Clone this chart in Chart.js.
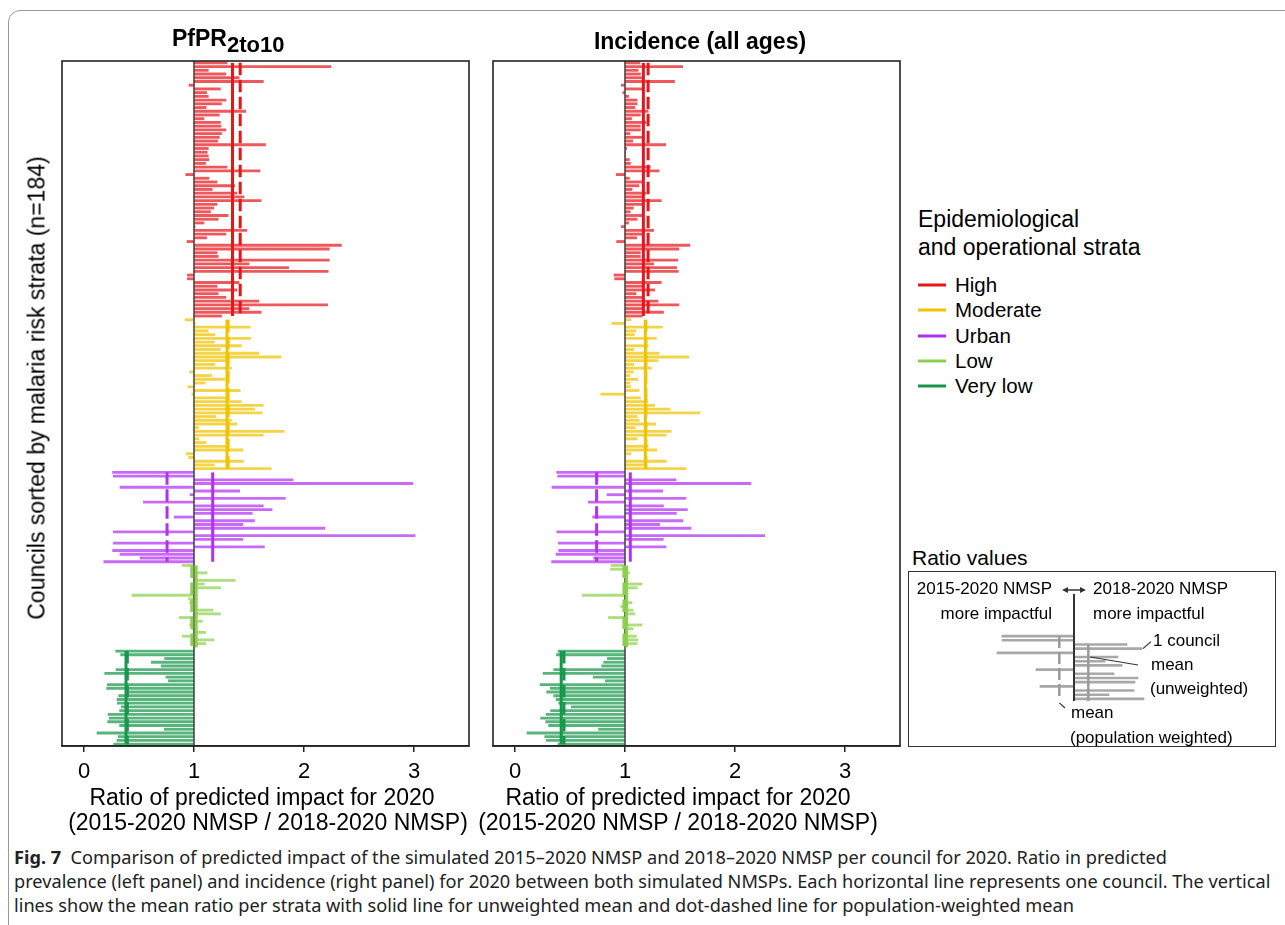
<!DOCTYPE html>
<html>
<head>
<meta charset="utf-8">
<script src="https://cdn.jsdelivr.net/npm/chart.js@4.4.0/dist/chart.umd.min.js"></script>
<style>
  body { margin: 0; background: #fff; width: 1285px; height: 925px; overflow: hidden; position: relative;
         font-family: "Liberation Sans", Arial, sans-serif; color: #000; }
  .abs { position: absolute; white-space: nowrap; line-height: 1; }
  .mid { transform: translate(-50%, -50%); }
  .lmid { transform: translate(0, -50%); }
  .rmid { transform: translate(-100%, -50%); }
  canvas { position: absolute; }
  .frame { position: absolute; left: 8px; top: 10px; width: 1300px; height: 940px; border: 1px solid #9a9a9a; border-radius: 12px; }
  .ptitle { font-weight: bold; font-size: 23px; }
  .ptitle sub { font-size: 22px; vertical-align: -6px; }
  .axt { font-size: 23px; }
  .sw { position: absolute; width: 28px; height: 3px; transform: translate(0, -50%); }
  .leg { font-size: 20.5px; }
  .inset { position: absolute; left: 908px; top: 571px; width: 366px; height: 174px; border: 1px solid #333; }
  .it { font-size: 17px; }
  .cap { position: absolute; left: 14px; white-space: nowrap; font-family: "Noto Sans", sans-serif; font-size: 15px; transform: translate(0, -50%); color: #222; }
</style>
</head>
<body>
<div class="frame"></div>

<canvas id="pfprChart" width="480" height="840" style="left:0;top:0"></canvas>
<canvas id="incChart" width="430" height="840" style="left:480px;top:0"></canvas>

<div class="abs lmid ptitle" style="left:172px;top:41px">PfPR<sub>2to10</sub></div>
<div class="abs mid ptitle" style="left:700px;top:41px">Incidence (all ages)</div>

<div class="abs axt" style="left:37px;top:388px;transform:translate(-50%,-50%) rotate(-90deg)">Councils sorted by malaria risk strata (n=184)</div>

<div class="abs mid axt" style="left:262px;top:797px">Ratio of predicted impact for 2020</div>
<div class="abs mid axt" style="left:268px;top:822px">(2015-2020 NMSP / 2018-2020 NMSP)</div>
<div class="abs mid axt" style="left:678px;top:797px">Ratio of predicted impact for 2020</div>
<div class="abs mid axt" style="left:678px;top:822px">(2015-2020 NMSP / 2018-2020 NMSP)</div>

<div class="abs lmid axt" style="left:918px;top:219px;font-size:23px">Epidemiological</div>
<div class="abs lmid axt" style="left:918px;top:247px;font-size:23px">and operational strata</div>
<div id="legend"></div>

<div class="abs lmid" style="left:912px;top:557px;font-size:21px">Ratio values</div>
<div class="inset"></div>
<canvas id="insetChart" width="366" height="174" style="left:909px;top:572px"></canvas>
<div class="abs rmid it" style="left:1052px;top:588px">2015-2020 NMSP</div>
<div class="abs rmid it" style="left:1052px;top:613px">more impactful</div>
<div class="abs lmid it" style="left:1093px;top:588px">2018-2020 NMSP</div>
<div class="abs lmid it" style="left:1093px;top:613px">more impactful</div>
<div class="abs lmid it" style="left:1153px;top:640px">1 council</div>
<div class="abs lmid it" style="left:1151px;top:664px">mean</div>
<div class="abs lmid it" style="left:1150px;top:688px">(unweighted)</div>
<div class="abs lmid it" style="left:1071px;top:712px">mean</div>
<div class="abs lmid it" style="left:1070px;top:737px">(population weighted)</div>

<div class="cap" style="top:857px"><b>Fig. 7</b>&nbsp; Comparison of predicted impact of the simulated 2015–2020 NMSP and 2018–2020 NMSP per council for 2020. Ratio in predicted</div>
<div class="cap" id="capRef" style="top:881px">prevalence (left panel) and incidence (right panel) for 2020 between both simulated NMSPs. Each horizontal line represents one council. The vertical</div>
<div class="cap" style="top:905px">lines show the mean ratio per strata with solid line for unweighted mean and dot-dashed line for population-weighted mean</div>

<script>
// strata, top to bottom
const strata = ['High', 'Moderate', 'Urban', 'Low', 'Very low'];
const strataColors = ['#E5171D', '#EFC300', '#B230F2', '#8DD14E', '#17974A'];
const xTicks = [0, 1, 2, 3];

// PfPR2to10 ratios per council
const pfprHigh = [1.30, 2.245, 1.13, 1.29, 1.41, 1.63, 0.955, 1.24, 1.115, 1.13,
  1.29, 1.25, 1.11, 1.47, 1.23, 1.09, 1.24, 1.245, 1.29, 1.25,
  1.23, 1.215, 1.65, 1.13, 1.12, 1.13, 1.135, 1.105, 1.30, 1.60,
  0.925, 1.135, 1.21, 1.37, 1.165, 1.39, 1.455, 1.61, 1.21, 1.18,
  1.15, 1.31, 1.22, 1.09, 1.01, 1.48, 1.29, 1.115, 0.936, 2.34,
  2.23, 1.21, 1.22, 2.23, 1.50, 1.86, 2.22, 0.94, 0.94, 1.41,
  1.21, 1.39, 1.22, 1.29, 1.59, 2.215, 1.50, 1.61, 1.25];
const pfprModerate = [0.92, 1.01, 1.51, 1.13, 1.19, 1.515, 1.185, 1.43, 1.24, 1.59,
  1.79, 1.29, 1.19, 1.34, 0.96, 1.16, 1.28, 1.10, 0.945, 1.42,
  0.98, 1.29, 1.43, 1.63, 1.55, 1.62, 1.20, 1.34, 1.39, 1.04,
  1.82, 1.63, 1.045, 1.11, 1.29, 1.445, 0.93, 0.95, 1.45, 1.185, 1.70];
const pfprUrban = [0.26, 0.267, 1.90, 2.99, 0.327, 1.415, 0.964, 1.83, 0.54, 1.63,
  1.71, 1.53, 0.82, 1.55, 1.445, 2.19, 0.267, 3.01, 1.445, 0.267,
  1.64, 0.26, 0.327, 0.51, 0.18];
const pfprLow = [0.894, 0.97, 1.12, 1.01, 1.375, 1.094, 1.24, 0.99, 0.436, 0.95,
  0.96, 1.01, 1.17, 1.24, 0.867, 1.076, 0.96, 0.98, 1.106, 0.894,
  1.18, 1.106, 1.01];
const pfprVeryLow = [0.288, 0.333, 0.733, 0.612, 0.703, 0.291, 0.188, 0.745, 0.767, 0.212,
  0.206, 0.39, 0.315, 0.30, 0.303, 0.34, 0.324, 0.218, 0.23, 0.215,
  0.324, 0.73, 0.118, 0.31, 0.30, 0.27];
const pfprMean = [1.35, 1.30, 1.17, 1.02, 0.382];
const pfprWeightedMean = [1.42, 1.31, 0.755, 0.98, 0.394];

// incidence ratios per council (right panel)
const incHigh = [1.136, 1.524, 1.12, 1.14, 1.167, 1.45, 0.967, 1.167, 0.98, 1.033,
  1.11, 1.11, 1.09, 1.21, 1.14, 1.06, 1.19, 1.14, 1.14, 1.045,
  1.167, 1.07, 1.37, 1.015, 1.006, 1.006, 1.04, 1.05, 1.23, 1.31,
  0.92, 1.04, 1.15, 1.127, 1.064, 1.19, 1.167, 1.33, 1.155, 1.076,
  1.048, 1.16, 1.11, 1.033, 0.967, 1.26, 1.167, 1.106, 0.924, 1.59,
  1.49, 1.14, 1.14, 1.48, 1.26, 1.47, 1.485, 0.90, 0.906, 1.33,
  1.167, 1.27, 1.10, 1.167, 1.30, 1.49, 1.167, 1.35, 1.155];
const incModerate = [1.055, 0.88, 1.34, 1.097, 1.085, 1.285, 1.005, 1.21, 1.08, 1.31,
  1.58, 1.30, 1.08, 1.24, 1.076, 1.045, 1.115, 1.045, 1.05, 1.127,
  0.78, 1.14, 1.206, 1.27, 1.41, 1.68, 1.11, 1.13, 1.28, 1.094,
  1.42, 1.375, 1.11, 1.0, 1.21, 1.29, 1.055, 1.003, 1.375, 1.17, 1.555];
const incUrban = [0.379, 0.388, 1.464, 2.145, 0.336, 1.342, 0.836, 1.555, 0.667, 1.35,
  1.567, 1.467, 0.706, 1.527, 1.315, 1.60, 0.379, 2.27, 1.348, 0.394,
  1.373, 0.397, 0.373, 0.715, 0.333];
const incLow = [0.876, 0.867, 1.04, 1.01, 1.0, 1.155, 1.11, 0.985, 0.612, 0.995,
  1.064, 0.96, 1.073, 1.088, 0.85, 1.01, 1.155, 1.073, 1.01, 1.103,
  1.115, 1.11, 1.0];
const incVeryLow = [0.391, 0.376, 0.84, 0.806, 0.788, 0.352, 0.255, 0.712, 0.82, 0.227,
  0.321, 0.288, 0.352, 0.373, 0.397, 0.512, 0.324, 0.282, 0.233, 0.279,
  0.306, 0.76, 0.109, 0.27, 0.285, 0.391];
const incMean = [1.167, 1.185, 1.048, 1.015, 0.42];
const incWeightedMean = [1.21, 1.19, 0.742, 0.99, 0.445];

// "Ratio values" key: a few example councils + both means
const keyRatios = [0.28, 0.28, 1.53, 1.68, 0.23, 1.44, 1.31, 1.48, 0.62, 1.40, 1.64, 1.61, 0.66, 1.60, 1.35, 1.70];
const keyMean = 1.143;
const keyWeightedMean = 0.853;

const FONT = '"Liberation Sans", Arial, sans-serif';

function alpha(hex, a) {
  const n = parseInt(hex.slice(1), 16);
  return `rgba(${n >> 16},${(n >> 8) & 255},${n & 255},${a})`;
}

// legend
document.getElementById('legend').innerHTML = strata.map((s, i) => {
  const y = [285, 310, 336, 361, 386][i];
  return `<div class="sw" style="left:918px;top:${y}px;background:${strataColors[i]}"></div>` +
         `<div class="abs lmid leg" style="left:955px;top:${y}px">${s}</div>`;
}).join('');

// mean lines, the ratio = 1 reference and the box
const panelDecor = {
  id: 'panelDecor',
  afterDatasetsDraw(chart, args, o) {
    const { ctx, chartArea: a, scales: { x, y } } = chart;
    ctx.save();
    ctx.strokeStyle = '#3a3a3a'; ctx.lineWidth = 1.4;
    const x1 = x.getPixelForValue(1);
    ctx.beginPath(); ctx.moveTo(x1, a.top); ctx.lineTo(x1, a.bottom); ctx.stroke();
    let start = 0;
    o.counts.forEach((n, i) => {
      const y0 = y.getPixelForValue(start), y1 = y.getPixelForValue(start + n - 1);
      ctx.strokeStyle = strataColors[i]; ctx.lineWidth = 3;
      ctx.setLineDash([]);
      ctx.beginPath(); ctx.moveTo(x.getPixelForValue(o.mean[i]), y0); ctx.lineTo(x.getPixelForValue(o.mean[i]), y1); ctx.stroke();
      ctx.setLineDash([12.5, 4.5]);
      ctx.beginPath(); ctx.moveTo(x.getPixelForValue(o.wmean[i]), y0); ctx.lineTo(x.getPixelForValue(o.wmean[i]), y1); ctx.stroke();
      start += n;
    });
    ctx.setLineDash([]);
    ctx.strokeStyle = '#222'; ctx.lineWidth = 1.6;
    ctx.strokeRect(a.left, a.top, a.width, a.height);
    ctx.restore();
  }
};

function makePanel(id, groups, mean, wmean, padL, padR) {
  const values = groups.flat();
  const colors = groups.flatMap((g, i) => g.map(() => alpha(strataColors[i], 0.72)));
  return new Chart(document.getElementById(id), {
    type: 'bar',
    data: {
      labels: values.map((_, i) => i + 1),
      datasets: [{ data: values.map(v => [1, v]), backgroundColor: colors, barThickness: 2.2, borderWidth: 0 }]
    },
    options: {
      indexAxis: 'y', responsive: false, animation: false, devicePixelRatio: 1,
      layout: { padding: { left: padL, right: padR, top: 61, bottom: 0 } },
      plugins: { legend: { display: false }, tooltip: { enabled: false },
                 panelDecor: { counts: groups.map(g => g.length), mean, wmean } },
      scales: {
        x: {
          type: 'linear', min: -0.2, max: 3.5,
          afterBuildTicks: s => { s.ticks = xTicks.map(v => ({ value: v })); },
          afterFit: s => { s.height = 94; },
          grid: { drawOnChartArea: false, drawTicks: true, tickLength: 6, color: '#222', lineWidth: 1.5 },
          border: { display: true, color: '#222', width: 1.5 },
          ticks: { color: '#000', font: { family: FONT, size: 22 }, padding: 7, maxRotation: 0, autoSkip: false }
        },
        y: { type: 'category', display: false, offset: true }
      }
    },
    plugins: [panelDecor]
  });
}

makePanel('pfprChart', [pfprHigh, pfprModerate, pfprUrban, pfprLow, pfprVeryLow], pfprMean, pfprWeightedMean, 62, 11);
makePanel('incChart', [incHigh, incModerate, incUrban, incLow, incVeryLow], incMean, incWeightedMean, 13, 10);

// key inset
const keyDecor = {
  id: 'keyDecor',
  afterDatasetsDraw(chart) {
    const { ctx, scales: { x, y } } = chart;
    const n = keyRatios.length;
    ctx.save();
    ctx.strokeStyle = '#9a9a9a'; ctx.lineWidth = 2.5;
    ctx.beginPath(); ctx.moveTo(x.getPixelForValue(keyMean), y.getPixelForValue(2)); ctx.lineTo(x.getPixelForValue(keyMean), y.getPixelForValue(n - 1) + 2); ctx.stroke();
    ctx.setLineDash([12, 4]);
    ctx.beginPath(); ctx.moveTo(x.getPixelForValue(keyWeightedMean), y.getPixelForValue(0)); ctx.lineTo(x.getPixelForValue(keyWeightedMean), y.getPixelForValue(n - 1)); ctx.stroke();
    ctx.setLineDash([]);
    const x1 = x.getPixelForValue(1);
    ctx.strokeStyle = '#333'; ctx.lineWidth = 2;
    ctx.beginPath(); ctx.moveTo(x1, 22); ctx.lineTo(x1, y.getPixelForValue(n - 1) + 2); ctx.stroke();
    // double arrow
    ctx.lineWidth = 1.5;
    ctx.beginPath(); ctx.moveTo(x1 - 10, 18); ctx.lineTo(x1 + 10, 18); ctx.stroke();
    ctx.fillStyle = '#333';
    ctx.beginPath(); ctx.moveTo(x1 - 12, 18); ctx.lineTo(x1 - 6, 15); ctx.lineTo(x1 - 6, 21); ctx.fill();
    ctx.beginPath(); ctx.moveTo(x1 + 12, 18); ctx.lineTo(x1 + 6, 15); ctx.lineTo(x1 + 6, 21); ctx.fill();
    // leaders
    ctx.lineWidth = 1.2; ctx.strokeStyle = '#333';
    const seg = (ax, ay, bx, by) => { ctx.beginPath(); ctx.moveTo(ax, ay); ctx.lineTo(bx, by); ctx.stroke(); };
    seg(x.getPixelForValue(keyRatios[3]) + 1, y.getPixelForValue(3), x.getPixelForValue(keyRatios[3]) + 9, y.getPixelForValue(3) - 7);
    seg(x.getPixelForValue(keyMean) + 2, y.getPixelForValue(5), 229, 93);
    seg(x.getPixelForValue(keyWeightedMean), y.getPixelForValue(n - 1) + 4, 156, 136);
    ctx.restore();
  }
};

new Chart(document.getElementById('insetChart'), {
  type: 'bar',
  data: {
    labels: keyRatios.map((_, i) => i + 1),
    datasets: [{ data: keyRatios.map(v => [1, v]), backgroundColor: '#a8a8a8', barThickness: 2, borderWidth: 0 }]
  },
  options: {
    indexAxis: 'y', responsive: false, animation: false, devicePixelRatio: 1,
    layout: { padding: { left: 85, right: 121, top: 62, bottom: 45 } },
    plugins: { legend: { display: false }, tooltip: { enabled: false } },
    scales: {
      x: { type: 'linear', min: 0.2, max: 1.8, display: false },
      y: { type: 'category', display: false, offset: true }
    }
  },
  plugins: [keyDecor]
});

// size caption so its second line spans the same width as in the figure
(function fitCaption() {
  const ref = document.getElementById('capRef');
  const w = ref.getBoundingClientRect().width;
  const size = 15 * 1257 / w;
  document.querySelectorAll('.cap').forEach(el => { el.style.fontSize = size.toFixed(2) + 'px'; });
})();
</script>
</body>
</html>
